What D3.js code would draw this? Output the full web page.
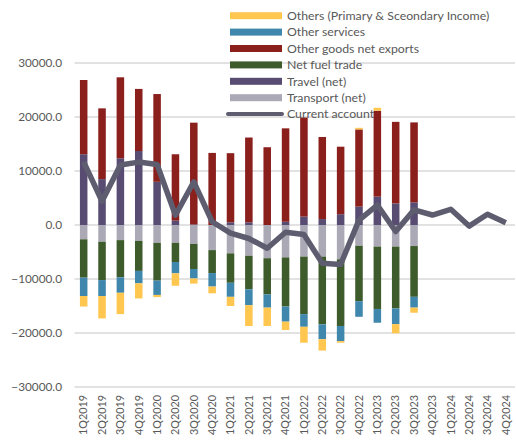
<!DOCTYPE html>
<html>
<head>
<meta charset="utf-8">
<script src="https://cdn.jsdelivr.net/npm/d3@7"></script>
<style>
  body { margin: 0; background: #fff; }
  text { font-family: Lato, "Open Sans", sans-serif; fill: #595959; }
</style>
</head>
<body>
<svg width="516" height="441"></svg>
<script>
// quarters on the x axis
const quarters = ["1Q2019","2Q2019","3Q2019","4Q2019","1Q2020","2Q2020","3Q2020","4Q2020",
  "1Q2021","2Q2021","3Q2021","4Q2021","1Q2022","2Q2022","3Q2022","4Q2022",
  "1Q2023","2Q2023","3Q2023","4Q2023","1Q2024","2Q2024","3Q2024","4Q2024"];

// bar components (only up to 3Q2023)
const transport = [-2650,-3100,-2800,-2950,-3300,-3300,-3500,-4650,-5250,-5700,-6150,-6000,-5850,-5850,-6350,-3850,-4000,-4000,-3900];
const travel    = [13100,8500,12350,13700,8000,800,100,0,500,500,0,600,1550,1100,2000,3400,5250,4000,4200];
const fuel      = [-7100,-7100,-6900,-5550,-7000,-3550,-4650,-4250,-5450,-6200,-6700,-9100,-10650,-12550,-12350,-10250,-11550,-11450,-9400];
const goods     = [13750,13100,15000,11500,16250,12300,18850,13350,12800,15700,14400,17300,18350,15200,12500,14300,15900,15100,14800];
const services  = [-3400,-2950,-2850,-2300,-2650,-2100,-1750,-2500,-2600,-2950,-2450,-2800,-2350,-2750,-2800,-2900,-2550,-2900,-2000];
const others    = [-1950,-4150,-3950,-2800,-400,-2300,-950,-1250,-1700,-3850,-3400,-1550,-2950,-2100,-300,300,550,-1700,-950];

// current account line (all quarters)
const currentAccount = [11700,4400,11100,11650,11200,1800,8000,600,-1500,-2500,-4300,-1350,-1750,-7100,-7300,900,3700,-1200,2800,1850,2900,-200,2000,400];

const yTicks = [-30000,-20000,-10000,0,10000,20000,30000];

const series = [
  { key: "transport", name: "Transport (net)", color: "#aaa9b5", values: transport },
  { key: "travel", name: "Travel (net)", color: "#584c73", values: travel },
  { key: "fuel", name: "Net fuel trade", color: "#3e5b2c", values: fuel },
  { key: "goods", name: "Other goods net exports", color: "#8a1f1c", values: goods },
  { key: "services", name: "Other services", color: "#3f87ac", values: services },
  { key: "others", name: "Others (Primary & Sceondary Income)", color: "#ffc650", values: others }
];
const lineColor = "#5e5d70";

const svg = d3.select("svg");
const plotLeft = 74.5, plotRight = 515, plotTop = 63, plotBottom = 387;

const x = d3.scaleBand()
  .domain(quarters)
  .range([plotLeft, plotRight])
  .paddingInner(0.59)
  .paddingOuter(0.295);

const y = d3.scaleLinear()
  .domain([-30000, 30000])
  .range([plotBottom, plotTop]);

// gridlines
svg.append("g")
  .selectAll("line")
  .data(yTicks)
  .join("line")
  .attr("x1", plotLeft)
  .attr("x2", plotRight)
  .attr("y1", d => y(d))
  .attr("y2", d => y(d))
  .attr("stroke", "#d9d9d9")
  .attr("stroke-width", 1.3);

// y labels
svg.append("g")
  .selectAll("text")
  .data(yTicks)
  .join("text")
  .attr("x", 62)
  .attr("y", d => y(d))
  .attr("dy", "0.35em")
  .attr("text-anchor", "end")
  .attr("font-size", 11.8)
  .text(d => d3.format(".1f")(d));

// x labels rotated
svg.append("g")
  .selectAll("text")
  .data(quarters)
  .join("text")
  .attr("transform", d => `translate(${x(d) + x.bandwidth() / 2},395) rotate(-90)`)
  .attr("dy", "0.35em")
  .attr("text-anchor", "end")
  .attr("font-size", 10.8)
  .text(d => d);

// stacked bars
const table = quarters.slice(0, transport.length).map((q, i) => {
  const row = { q };
  series.forEach(s => { row[s.key] = s.values[i]; });
  return row;
});

const stack = d3.stack()
  .keys(series.map(s => s.key))
  .offset(d3.stackOffsetDiverging);

const layers = stack(table);

svg.append("g")
  .selectAll("g")
  .data(layers)
  .join("g")
  .attr("fill", (d, i) => series[i].color)
  .selectAll("rect")
  .data(d => d.filter(p => p[1] !== p[0]))
  .join("rect")
  .attr("x", d => x(d.data.q))
  .attr("y", d => y(d[1]))
  .attr("width", x.bandwidth())
  .attr("height", d => y(d[0]) - y(d[1]));

// current account line
const line = d3.line()
  .x((d, i) => x(quarters[i]) + x.bandwidth() / 2)
  .y(d => y(d));

svg.append("path")
  .datum(currentAccount)
  .attr("d", line)
  .attr("fill", "none")
  .attr("stroke", lineColor)
  .attr("stroke-width", 5.5)
  .attr("stroke-linejoin", "round");

// legend
const legendItems = [
  { name: series[5].name, color: series[5].color, type: "bar" },
  { name: series[4].name, color: series[4].color, type: "bar" },
  { name: series[3].name, color: series[3].color, type: "bar" },
  { name: series[2].name, color: series[2].color, type: "bar" },
  { name: series[1].name, color: series[1].color, type: "bar" },
  { name: series[0].name, color: series[0].color, type: "bar" },
  { name: "Current account", color: lineColor, type: "line" }
];

const legend = svg.append("g");
const rows = legend.selectAll("g")
  .data(legendItems)
  .join("g")
  .attr("transform", (d, i) => `translate(230,${15.7 + i * 16.4})`);

rows.filter(d => d.type === "bar")
  .append("rect")
  .attr("x", 0)
  .attr("y", -3.5)
  .attr("width", 52)
  .attr("height", 7)
  .attr("fill", d => d.color);

rows.filter(d => d.type === "line")
  .append("line")
  .attr("x1", -2)
  .attr("x2", 52)
  .attr("stroke", d => d.color)
  .attr("stroke-width", 4)
  .attr("stroke-linecap", "round");

rows.append("text")
  .attr("x", 57)
  .attr("dy", "0.35em")
  .attr("font-size", 12.3)
  .text(d => d.name);
</script>
</body>
</html>
